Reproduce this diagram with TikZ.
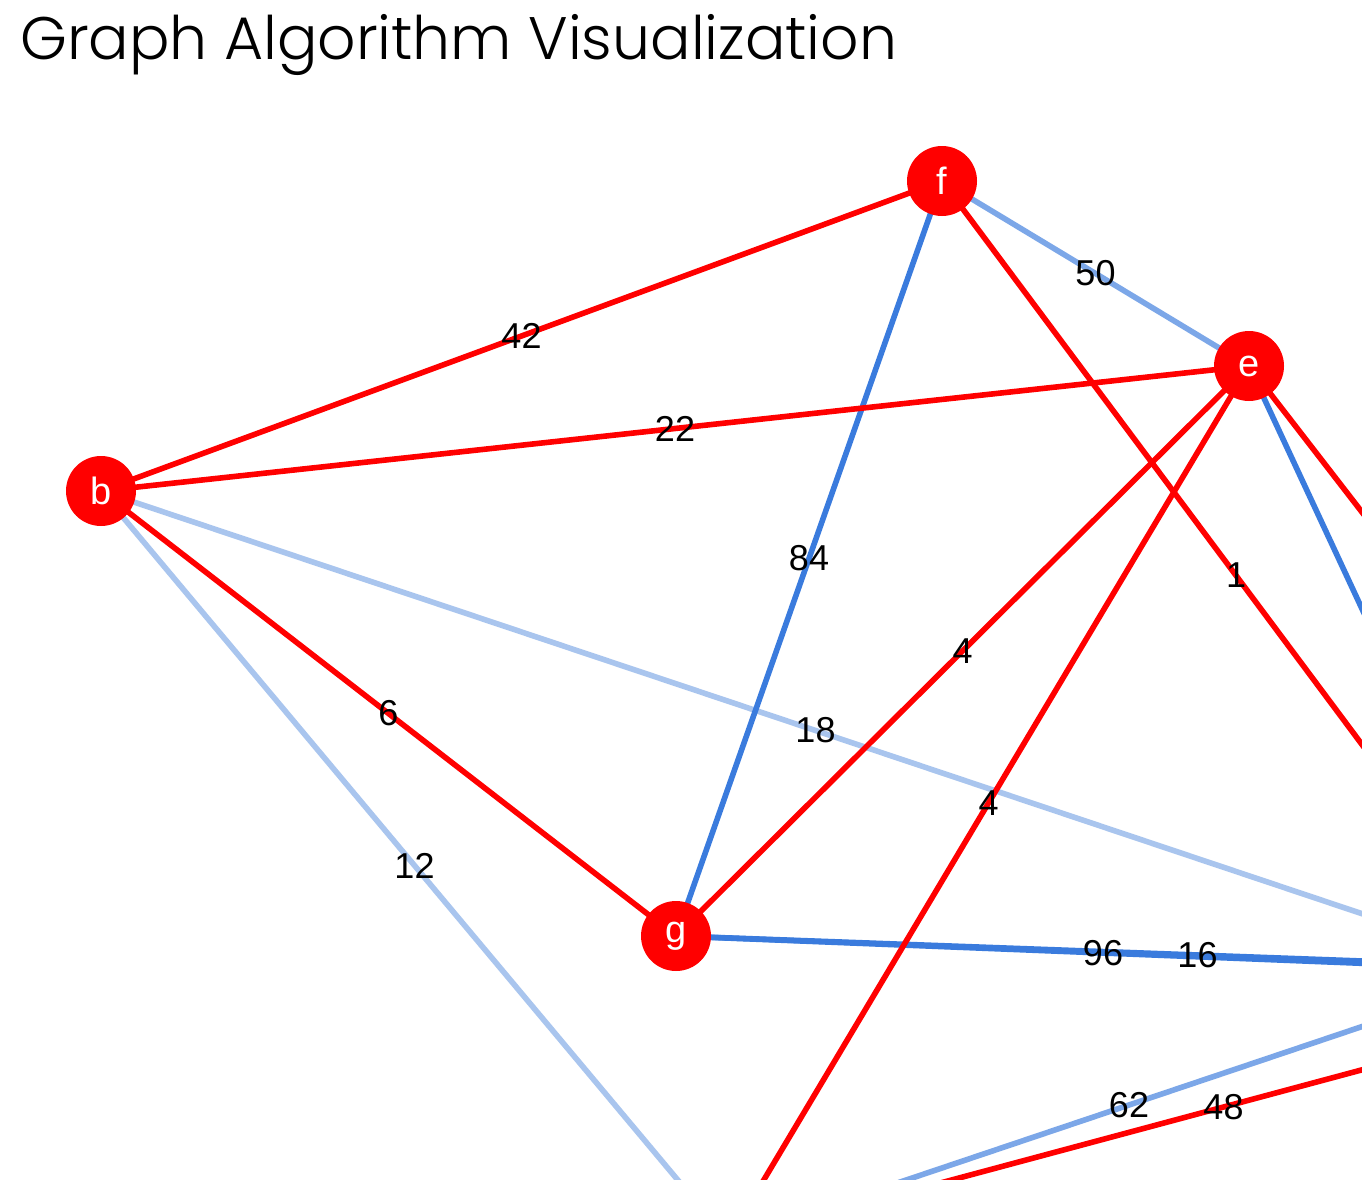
\documentclass[tikz,border=0pt]{standalone}
\usepackage{fontspec}
\setmainfont{Liberation Sans}
\newfontfamily\titlefont{Poppins Light}
\definecolor{gred}{HTML}{FF0000}
\definecolor{bdark}{HTML}{3A7BDD}
\definecolor{bmid}{HTML}{7CA7E8}
\definecolor{blight}{HTML}{A9C5EE}
\pgfdeclarelayer{edges}
\pgfsetlayers{edges,main}
\begin{document}
\begin{tikzpicture}[x=1pt,y=-1pt,
  vtx/.style={circle,fill=gred,minimum size=70pt,inner sep=0pt,text=white,font=\fontsize{38}{38}\selectfont},
  edge/.style={line width=5.6pt},
  wlabel/.style={font=\fontsize{36}{36}\selectfont,inner sep=0pt,text=black},
  ttl/.style={anchor=base west,inner sep=0pt,font=\titlefont\fontsize{60}{60}\selectfont}]
\useasboundingbox (0,0) rectangle (1362,1180);
\clip (0,0) rectangle (1362,1180);
% vertices
\node[vtx] (f) at (942,181) {f};
\node[vtx] (e) at (1249,366) {e};
\node[vtx] (b) at (101,491) {b};
\node[vtx] (g) at (676,936) {g};
% off-canvas vertices
\coordinate (X) at (1530,970);
\coordinate (Y) at (728,1240);
\coordinate (Z) at (1719,974);
% edges
\begin{pgfonlayer}{edges}
\fill[white] (0,0) rectangle (1362,1180);
\clip (0,0) rectangle (1362,1180);
\draw[edge,blight] (b.center) -- (X);
\draw[edge,blight] (b.center) -- (Y);
\draw[edge,bmid] (f.center) -- (e.center);
\draw[edge,bmid] (Y) -- (X);
\draw[edge,bdark] (f.center) -- (g.center);
\draw[edge,bdark] (e.center) -- (X);
\draw[edge,bdark] (g.center) -- (Z);
\draw[edge,bdark] (g.center) -- (X);
\draw[edge,gred] (b.center) -- (f.center);
\draw[edge,gred] (b.center) -- (e.center);
\draw[edge,gred] (b.center) -- (g.center);
\draw[edge,gred] (g.center) -- (e.center);
\draw[edge,gred] (e.center) -- (Y);
\draw[edge,gred] (e.center) -- (Z);
\draw[edge,gred] (f.center) -- (X);
\draw[edge,gred] (Y) -- (Z);
\end{pgfonlayer}
% weight labels at edge midpoints
\path (b.center) -- (X) node[pos=0.5,wlabel]{18};
\path (b.center) -- (Y) node[pos=0.5,wlabel]{12};
\path (f.center) -- (e.center) node[pos=0.5,wlabel]{50};
\path (Y) -- (X) node[pos=0.5,wlabel]{62};
\path (f.center) -- (g.center) node[pos=0.5,wlabel]{84};
\path (g.center) -- (Z) node[pos=0.5,wlabel]{16};
\path (g.center) -- (X) node[pos=0.5,wlabel]{96};
\path (b.center) -- (f.center) node[pos=0.5,wlabel]{42};
\path (b.center) -- (e.center) node[pos=0.5,wlabel]{22};
\path (b.center) -- (g.center) node[pos=0.5,wlabel]{6};
\path (g.center) -- (e.center) node[pos=0.5,wlabel]{4};
\path (e.center) -- (Y) node[pos=0.5,wlabel]{4};
\path (f.center) -- (X) node[pos=0.5,wlabel]{1};
\path (Y) -- (Z) node[pos=0.5,wlabel]{48};
% title
\node[ttl] (title) at (20,60) {Graph Algorithm Visualization};
\end{tikzpicture}
\end{document}
